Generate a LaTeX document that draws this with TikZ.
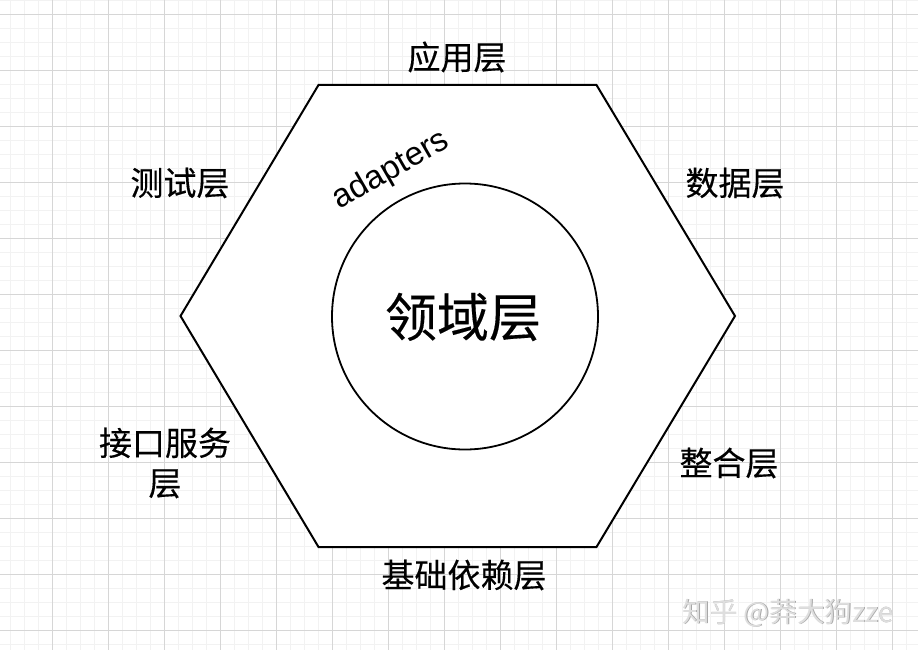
\documentclass[tikz,border=0pt]{standalone}
\usepackage{fontspec}
\setmainfont{Liberation Sans}
\newfontfamily\cjk[FakeBold=0.3]{Noto Sans CJK SC}
\newfontfamily\cjkw{Noto Sans CJK SC}
\begin{document}
\begin{tikzpicture}[x=1pt,y=-1pt,
  lbl/.style={font=\cjk\fontsize{33}{40}\selectfont, inner sep=0pt, align=center, text=black},
  wmark/.style={font=\cjkw\fontsize{27.5}{30}\selectfont, inner sep=0pt}]
\useasboundingbox (0,0) rectangle (918,650);
\fill[white] (0,0) rectangle (918,650);
% minor grid
\foreach \i in {0,...,65} {
  \draw[line width=0.8pt, black!5] (10.3+14*\i,0) -- (10.3+14*\i,650);
}
\foreach \j in {0,...,46} {
  \draw[line width=0.8pt, black!5] (0,0.3+14*\j) -- (918,0.3+14*\j);
}
% major grid
\foreach \i in {0,...,16} {
  \draw[line width=1pt, black!16] (52.3+56*\i,0) -- (52.3+56*\i,650);
}
\foreach \j in {0,...,11} {
  \draw[line width=1pt, black!16] (0,14.3+56*\j) -- (918,14.3+56*\j);
}
% hexagon
\coordinate (h1) at (318.5,85);
\coordinate (h2) at (596.5,85);
\coordinate (h3) at (735,316);
\coordinate (h4) at (596.5,547);
\coordinate (h5) at (318.5,547);
\coordinate (h6) at (180.5,316);
\draw[line width=2pt, fill=white, line join=miter] (h1) -- (h2) -- (h3) -- (h4) -- (h5) -- (h6) -- cycle;
% circle
\node[circle, draw, line width=1.8pt, minimum size=266pt, inner sep=0pt] (core) at (465,316.5) {};
\node[font=\cjk\fontsize{52}{56}\selectfont, inner sep=0pt] (domain) at (463,317) {领域层};
\node[font=\fontsize{33}{36}\selectfont, inner sep=0pt, rotate=30] (adp) at (391,170.5) {adapters};
% labels
\node[lbl] (app) at (457,57) {应用层};
\node[lbl] (data) at (735,183) {数据层};
\node[lbl] (test) at (180,183) {测试层};
\node[lbl] (integ) at (729,463) {整合层};
\node[lbl] (iface) at (165,463) {接口服务\\层};
\node[lbl] (base) at (464,575) {基础依赖层};
% watermark
\node[wmark, text=black!35] (wm2) at (788.8,613.8) {知乎 @莽大狗zze};
\node[wmark, text=black!13] (wm) at (788,613) {知乎 @莽大狗zze};
\end{tikzpicture}
\end{document}
